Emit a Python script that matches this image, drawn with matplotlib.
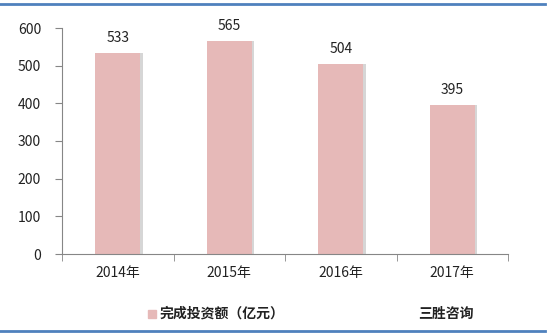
import matplotlib.pyplot as plt
from matplotlib.lines import Line2D
from matplotlib.patches import Rectangle

plt.rcParams['font.family'] = ['Noto Sans CJK SC', 'DejaVu Sans']

# Data
years = ['2014年', '2015年', '2016年', '2017年']
invest = [533, 565, 504, 395]
y_ticks = [0, 100, 200, 300, 400, 500, 600]
legend_label = '完成投资额（亿元）'
source = '三胜咨询'

bar_color = '#E6B9B8'
axis_color = '#868686'

fig = plt.figure(figsize=(5.5, 3.36), dpi=100)
ax = fig.add_axes([62 / 550, 1 - 254 / 336, 446 / 550, 226 / 336])

x = list(range(len(years)))
width = 0.4

# shadow behind the bars
ax.bar([i + 0.025 for i in x], invest, width=width, color='#D6D6D6', zorder=1)
ax.bar(x, invest, width=width, color=bar_color, zorder=2)

for i, v in zip(x, invest):
    ax.text(i, v + 22, str(v), ha='center', va='bottom', fontsize=10, color='#222222')

ax.set_xlim(-0.5, len(years) - 0.5)
ax.set_ylim(0, 600)
ax.set_yticks(y_ticks)
ax.set_yticklabels([str(t) for t in y_ticks], fontsize=10, color='#222222')
ax.set_xticks(x)
ax.set_xticklabels(years, fontsize=10, color='#222222')
ax.tick_params(axis='x', length=0, pad=9)
ax.set_xticks([i - 0.5 for i in range(len(years) + 1)], minor=True)
ax.tick_params(axis='x', which='minor', length=5, color=axis_color)
ax.tick_params(axis='y', length=5, color=axis_color, pad=10)

for s in ['top', 'right']:
    ax.spines[s].set_visible(False)
for s in ['left', 'bottom']:
    ax.spines[s].set_color(axis_color)
    ax.spines[s].set_linewidth(0.8)

# legend and source
fig.patches.append(Rectangle((148 / 550, 1 - 318 / 336), 8 / 550, 8 / 336,
                             transform=fig.transFigure, color=bar_color))
fig.text(159 / 550, 1 - 314 / 336, legend_label, fontsize=10, va='center', ha='left',
         fontweight='bold', color='#222222')
fig.text(446 / 550, 1 - 314 / 336, source, fontsize=10, va='center', ha='center',
         fontweight='bold', color='#222222')

# frame lines top and bottom
fig.add_artist(Line2D([0, 545 / 550], [1 - 4 / 336, 1 - 4 / 336],
                      transform=fig.transFigure, color='#4F81BD', lw=2))
fig.add_artist(Line2D([0, 545 / 550], [1 - 331 / 336, 1 - 331 / 336],
                      transform=fig.transFigure, color='#4F81BD', lw=2))

fig.savefig('out.png', dpi=100)
